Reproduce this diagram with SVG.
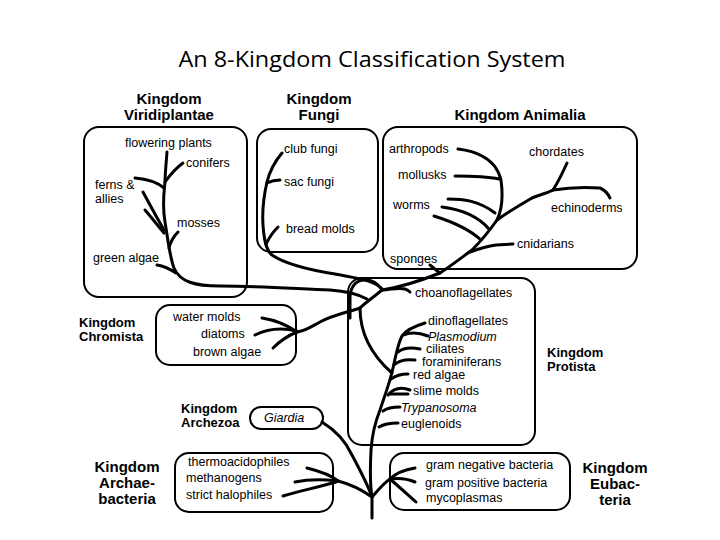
<svg xmlns="http://www.w3.org/2000/svg" width="720" height="540" viewBox="0 0 720 540">
<style>
.box{fill:none;stroke:#000;stroke-width:2}
.br{fill:none;stroke:#000;stroke-width:3;stroke-linecap:round;stroke-linejoin:round}
text{font-family:"Liberation Sans",Arial,sans-serif;font-size:12.5px;fill:#000}
.h{font-weight:bold;font-size:15px}
.hs{font-weight:bold;font-size:13px}
.i{font-style:italic}
.title{font-family:"Open Sans","Liberation Sans",sans-serif;font-size:22px}
</style>
<rect width="720" height="540" fill="#fff"/>
<text class="title" x="372" y="67" text-anchor="middle" textLength="387" lengthAdjust="spacingAndGlyphs">An 8-Kingdom Classification System</text>

<g id="connectors">
<!-- Viridiplantae -->
<path class="br" d="M167,152 C166,165 165,175 165,182 C164,192 162,205 165,222 C168,240 170,258 174,268 C180,282 195,286 220,286 C260,286 300,289 330,290 C345,291 358,294 367,299"/>
<path class="br" d="M165,182 C170,175 176,168 183,163"/>
<path class="br" d="M135,178 C147,179 157,182 164,188"/>
<path class="br" d="M143,192 C150,205 157,218 164,230"/>
<path class="br" d="M145,210 C152,218 158,226 164,233"/>
<path class="br" d="M169,248 C171,240 174,236 178,232"/>
<path class="br" d="M157,265 C163,266 170,269 176,273"/>
<!-- Fungi -->
<path class="br" d="M282,153 C276,160 270,170 267,182 C264,195 262,210 263,225 C264,240 266,250 272,255 C285,264 310,270 335,274 C355,278 375,280 382,289"/>
<path class="br" d="M267,183 C271,181 276,180 280,180"/>
<path class="br" d="M266,244 C269,238 273,232 278,227"/>
<!-- center -->
<path class="br" d="M350,318 L350,298 C350,288 355,281 363,280 C372,279 378,284 382,290"/>
<path class="br" d="M382,290 C375,296 366,302 360,308"/>
<path class="br" d="M382,290 C390,290 398,287 405,289 C408,290 409,291 410,292"/>
<!-- Animalia -->
<path class="br" d="M382,290 C395,288 415,283 440,273 C455,263 465,255 472,250 C480,242 490,230 497,220 C502,210 503,195 501,180 C498,168 490,160 482,156 C475,152 466,150 458,149"/>
<path class="br" d="M430,265 C434,268 437,271 440,273"/>
<path class="br" d="M455,176 C470,176 485,176 499,179"/>
<path class="br" d="M448,199 C462,199 478,200 495,213"/>
<path class="br" d="M442,207 C458,209 476,214 489,229"/>
<path class="br" d="M434,216 C450,221 468,228 481,240"/>
<path class="br" d="M470,252 C478,249 488,246 496,245 L513,244"/>
<path class="br" d="M497,220 C508,212 520,205 532,198 C542,194 550,192 553,190 C558,182 563,172 567,163"/>
<path class="br" d="M553,190 C565,188 585,187 600,188 C605,190 608,194 610,198"/>
<!-- Chromista -->
<path class="br" d="M360,308 C348,312 330,316 320,322 C312,326 306,331 297,332"/>
<path class="br" d="M262,318 C275,320 287,325 297,332"/>
<path class="br" d="M255,335 C265,330 280,327 297,331"/>
<path class="br" d="M273,348 C278,343 287,336 297,332"/>
<!-- Protista -->
<path class="br" d="M360,308 C360,330 368,352 392,373"/>
<path class="br" d="M372,518 L372,497 C370,485 370,470 371,450 C372,435 376,420 380,410 C385,395 390,382 393,368 C396,355 398,343 402,336 C406,330 415,326 425,323"/>
<path class="br" d="M403,335 C410,332 418,332 428,336"/>
<path class="br" d="M398,352 C403,348 410,347 420,349"/>
<path class="br" d="M394,365 C398,361 405,359 415,360"/>
<path class="br" d="M391,379 C395,376 401,374 408,374"/>
<path class="br" d="M388,395 C393,389 400,386 410,390"/>
<path class="br" d="M390,394 L408,394"/>
<path class="br" d="M383,411 C387,408 393,407 400,407"/>
<path class="br" d="M379,427 C384,424 390,423 398,423"/>
<!-- Archezoa -->
<path class="br" d="M322,422 C335,430 345,440 352,455 C360,470 368,485 372,497"/>
<!-- Archaebacteria -->
<path class="br" d="M372,497 C362,490 350,484 338,481"/>
<path class="br" d="M307,468 C315,470 330,474 338,481"/>
<path class="br" d="M295,482 C305,480 320,479 338,481"/>
<path class="br" d="M283,496 C295,492 315,488 336,482"/>
<!-- Eubacteria -->
<path class="br" d="M372,497 C378,490 385,482 390,479"/>
<path class="br" d="M390,479 C395,474 403,470 415,468"/>
<path class="br" d="M390,479 C398,478 408,479 415,482"/>
<path class="br" d="M390,479 C397,485 407,494 416,502"/>
</g>

<g id="viridiplantae">
<rect class="box" x="84" y="127" width="163" height="170" rx="15"/>
<text class="h" x="169" y="104" text-anchor="middle">Kingdom</text>
<text class="h" x="169" y="120" text-anchor="middle">Viridiplantae</text>
<text x="125" y="147">flowering plants</text>
<text x="186" y="167">conifers</text>
<text x="95" y="189">ferns &amp;</text>
<text x="95" y="203">allies</text>
<text x="177" y="227">mosses</text>
<text x="93" y="262">green algae</text>
</g>

<g id="fungi">
<rect class="box" x="257" y="129" width="121" height="123" rx="14"/>
<text class="h" x="319" y="104" text-anchor="middle">Kingdom</text>
<text class="h" x="319" y="120" text-anchor="middle">Fungi</text>
<text x="284" y="153">club fungi</text>
<text x="284" y="186">sac fungi</text>
<text x="286" y="233">bread molds</text>
</g>

<g id="animalia">
<rect class="box" x="383" y="127" width="254" height="142" rx="15"/>
<text class="h" x="520" y="120" text-anchor="middle">Kingdom Animalia</text>
<text x="389" y="153">arthropods</text>
<text x="398" y="179">mollusks</text>
<text x="393" y="209">worms</text>
<text x="390" y="263">sponges</text>
<text x="529" y="156">chordates</text>
<text x="551" y="212">echinoderms</text>
<text x="517" y="248">cnidarians</text>
</g>

<g id="chromista">
<rect class="box" x="156" y="305" width="140" height="60" rx="14"/>
<text class="hs" x="79" y="327">Kingdom</text>
<text class="hs" x="79" y="341">Chromista</text>
<text x="173" y="321">water molds</text>
<text x="201" y="338">diatoms</text>
<text x="193" y="356">brown algae</text>
</g>

<g id="protista">
<rect class="box" x="348" y="278" width="187" height="167" rx="14"/>
<text class="hs" x="547" y="357">Kingdom</text>
<text class="hs" x="547" y="371">Protista</text>
<text x="415" y="297">choanoflagellates</text>
<text x="428" y="325">dinoflagellates</text>
<text class="i" x="428" y="341">Plasmodium</text>
<text x="426" y="353">ciliates</text>
<text x="422" y="366">foraminiferans</text>
<text x="413" y="379">red algae</text>
<text x="413" y="395">slime molds</text>
<text class="i" x="401" y="412">Trypanosoma</text>
<text x="401" y="428">euglenoids</text>
</g>

<g id="archezoa">
<rect class="box" x="250" y="407" width="73" height="22" rx="11"/>
<text class="hs" x="181" y="413">Kingdom</text>
<text class="hs" x="181" y="427">Archezoa</text>
<text class="i" x="264" y="422">Giardia</text>
</g>

<g id="archaebacteria">
<rect class="box" x="175" y="453" width="158" height="59" rx="14"/>
<text class="h" x="127" y="472" text-anchor="middle">Kingdom</text>
<text class="h" x="127" y="488" text-anchor="middle">Archae-</text>
<text class="h" x="127" y="504" text-anchor="middle">bacteria</text>
<text x="188" y="466">thermoacidophiles</text>
<text x="186" y="482">methanogens</text>
<text x="186" y="499">strict halophiles</text>
</g>

<g id="eubacteria">
<rect class="box" x="390" y="453" width="180" height="57" rx="14"/>
<text class="h" x="615" y="473" text-anchor="middle">Kingdom</text>
<text class="h" x="615" y="489" text-anchor="middle">Eubac-</text>
<text class="h" x="615" y="505" text-anchor="middle">teria</text>
<text x="426" y="469">gram negative bacteria</text>
<text x="425" y="487">gram positive bacteria</text>
<text x="426" y="502">mycoplasmas</text>
</g>
</svg>
